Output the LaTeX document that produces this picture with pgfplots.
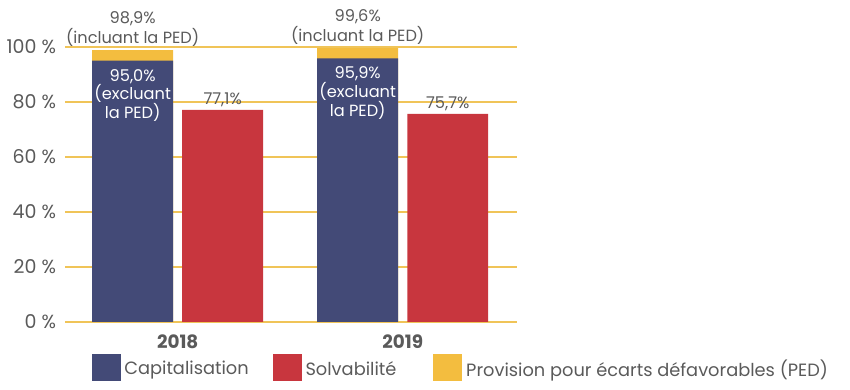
\documentclass[border=0pt]{standalone}
\usepackage{pgfplots}
\pgfplotsset{compat=1.18}
\usepackage{fontspec}
\setmainfont{Poppins}
\definecolor{navy}{HTML}{434A77}
\definecolor{redb}{HTML}{C8363E}
\definecolor{ped}{HTML}{F3BD3F}
\definecolor{gridc}{HTML}{F0C458}
\definecolor{txt}{HTML}{5A5A5A}
\begin{document}
\begin{tikzpicture}
\begin{axis}[name=ax,
  scale only axis, width=226pt, height=137.5pt,
  xmin=-0.75, xmax=4.27, ymin=0, ymax=100,
  axis x line*=bottom, axis y line*=left,
  axis line style={draw=none}, major tick length=0pt,
  clip=false,
  ybar, bar width=40.5pt, bar shift=0pt,
  ytick={0,20,40,60,80,100},
  yticklabels={0 \%,20 \%,40 \%,60 \%,80 \%,100 \%},
  yticklabel style={font=\fontsize{9.5}{10}\selectfont, text=txt, xshift=-1pt},
  xtick=\empty,
  ymajorgrids, grid style={gridc, line width=1pt},
  legend columns=3,
  legend style={at={(rel axis cs:0,0)}, anchor=north west, xshift=10pt, yshift=-14pt,
    draw=none, fill=none, font=\fontsize{8.9}{11}\selectfont\color{txt},
    /tikz/every even column/.append style={column sep=10pt},
    /tikz/every odd column/.append style={column sep=0pt}},
  legend cell align=left,
]
% PED (total incl. PED)
\addplot[fill=ped, draw=none, forget plot] coordinates {(0,98.9) (2.5,99.6)};
% Capitalisation (excl. PED)
\addplot[fill=navy, draw=none, forget plot] coordinates {(0,95.0) (2.5,95.9)};
% Solvabilite
\addplot[fill=redb, draw=none, forget plot] coordinates {(1,77.1) (3.5,75.7)};

\addlegendimage{legend image code/.code={\fill[navy] (0pt,-5.5pt) rectangle (14pt,7.5pt);}}
\addlegendentry{Capitalisation}
\addlegendimage{legend image code/.code={\fill[redb] (0pt,-5.5pt) rectangle (14pt,7.5pt);}}
\addlegendentry{Solvabilité\hspace*{6.5pt}\null}
\addlegendimage{legend image code/.code={\fill[ped] (0pt,-5.5pt) rectangle (14pt,7.5pt);}}
\addlegendentry{Provision pour écarts défavorables (PED)}

% annotations
\begin{scope}[every node/.style={font=\fontsize{8.1}{9.4}\selectfont, align=center, inner sep=0pt}]
\node[text=txt, anchor=south, font=\fontsize{8.1}{10.2}\selectfont] at (axis cs:0,98.9) [yshift=1.5pt] {98,9\%\\(incluant la PED)};
\node[text=txt, anchor=south, font=\fontsize{8.1}{10.2}\selectfont] at (axis cs:2.5,99.6) [yshift=1.5pt] {99,6\%\\(incluant la PED)};
\node[text=white, anchor=north] at (axis cs:0,95.0) [yshift=-4pt] {95,0\%\\(excluant\\la PED)};
\node[text=white, anchor=north] at (axis cs:2.5,95.9) [yshift=-4pt] {95,9\%\\(excluant\\la PED)};
\node[text=txt, anchor=south] at (axis cs:1,77.1) [yshift=1.5pt] {77,1\%};
\node[text=txt, anchor=south] at (axis cs:3.5,75.7) [yshift=1.5pt] {75,7\%};
\end{scope}
\node[text=txt, font=\fontsize{9.2}{10}\selectfont\bfseries, anchor=north] at (axis cs:0.5,0) [yshift=-3pt] {2018};
\node[text=txt, font=\fontsize{9.2}{10}\selectfont\bfseries, anchor=north] at (axis cs:3.0,0) [yshift=-3pt] {2019};
\end{axis}
\path[use as bounding box] ([xshift=-32.5pt,yshift=-34pt]ax.south west) rectangle ([xshift=392.5pt,yshift=161pt]ax.south west);
\end{tikzpicture}
\end{document}
